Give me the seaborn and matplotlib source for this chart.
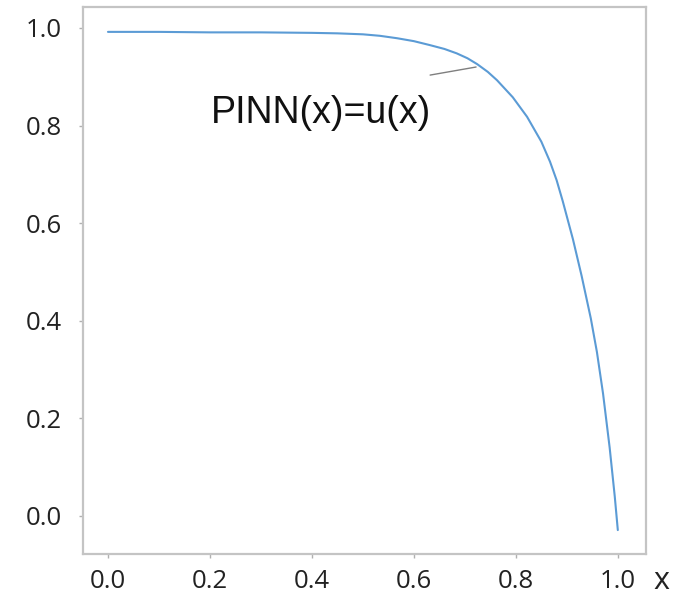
import matplotlib
matplotlib.use("Agg")
import matplotlib.pyplot as plt
import seaborn as sns
import pandas as pd

# Data
x_vals = [0.0, 0.1, 0.2, 0.3, 0.4, 0.45, 0.5, 0.533, 0.567, 0.6, 0.631, 0.66, 0.684,
          0.705, 0.724, 0.745, 0.763, 0.794, 0.822, 0.850, 0.867, 0.880, 0.892, 0.912,
          0.929, 0.947, 0.959, 0.971, 0.984, 0.994, 1.0]
u_vals = [0.992, 0.992, 0.991, 0.991, 0.990, 0.989, 0.987, 0.984, 0.979, 0.973, 0.965,
          0.957, 0.948, 0.938, 0.926, 0.910, 0.893, 0.858, 0.818, 0.767, 0.726, 0.688,
          0.645, 0.567, 0.492, 0.405, 0.336, 0.251, 0.140, 0.040, -0.029]
x_ticks = [0.0, 0.2, 0.4, 0.6, 0.8, 1.0]
y_ticks = [0.0, 0.2, 0.4, 0.6, 0.8, 1.0]
annotation_text = "PINN(x)=u(x)"
x_label = "x"

df = pd.DataFrame({"x": x_vals, "u": u_vals})

sns.set_theme(style="white")
plt.rcParams["font.family"] = ["Open Sans", "DejaVu Sans"]

fig = plt.figure(figsize=(6.82, 5.98), dpi=100)
ax = fig.add_axes([0.1217, 0.0736, 0.8253, 0.9147])

sns.lineplot(data=df, x="x", y="u", ax=ax, color="#5b9bd5", linewidth=1.5)

ax.set_xlim(-0.049, 1.055)
ax.set_ylim(-0.078, 1.043)
ax.set_xticks(x_ticks)
ax.set_yticks(y_ticks)
ax.set_xticklabels([f"{v:.1f}" for v in x_ticks])
ax.set_yticklabels([f"{v:.1f}" for v in y_ticks])
ax.set_xlabel("")
ax.set_ylabel("")

for s in ax.spines.values():
    s.set_color("#c4c4c4")
    s.set_linewidth(1.6)

ax.tick_params(axis="both", which="both", direction="out", length=3, width=1,
               color="#b0b0b0", labelsize=18.5, labelcolor="#222222",
               left=True, bottom=True)
ax.tick_params(axis="y", pad=12)
ax.tick_params(axis="x", pad=8)

ax.annotate(annotation_text, xy=(0.722, 0.920), xytext=(0.418, 0.826),
            textcoords="data", ha="center", va="center",
            fontsize=27, color="#111111", family=["Liberation Sans", "DejaVu Sans"],
            arrowprops=dict(arrowstyle="-", color="#7f7f7f", lw=1.0,
                            shrinkA=0, shrinkB=0,
                            relpos=(0.995, 1.55)))

ax.text(1.027, -0.049, x_label, transform=ax.transAxes, ha="center", va="center",
        fontsize=22, color="#222222")

fig.savefig("out.png", dpi=100)
